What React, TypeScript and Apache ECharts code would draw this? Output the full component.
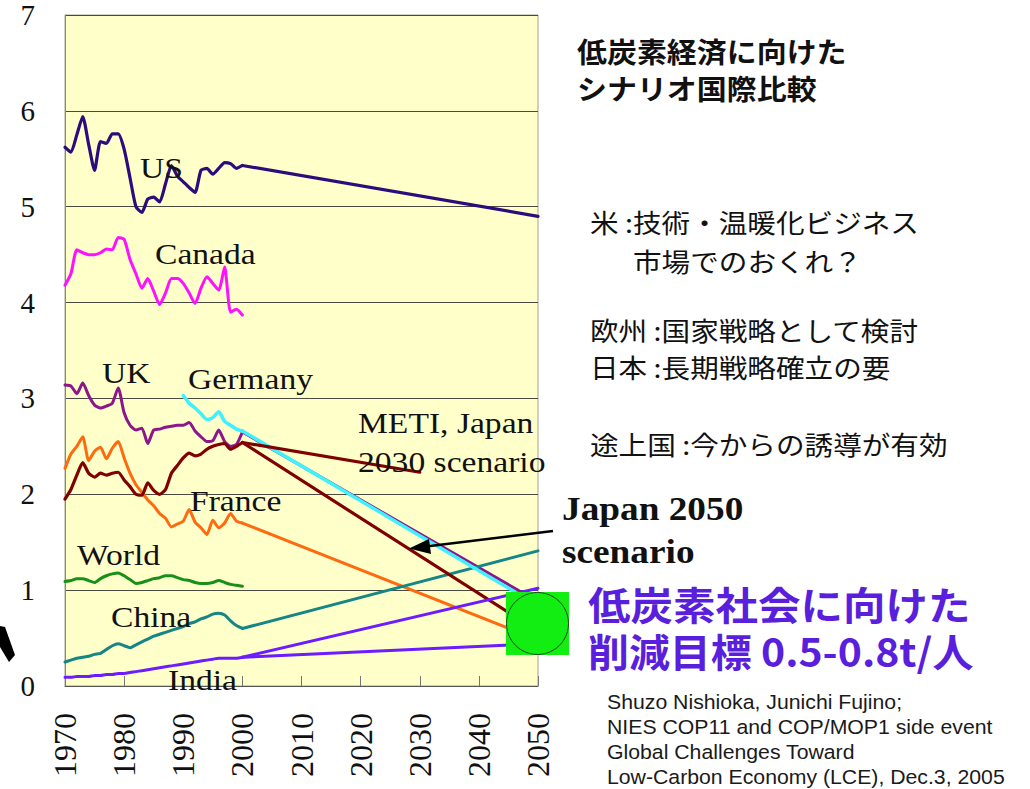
import React, { useEffect, useRef } from "react";
import * as echarts from "echarts";

// ---------- data (t-C per capita) ----------
const HIST_YEARS = [
  1970, 1971, 1972, 1973, 1974, 1975, 1976, 1977, 1978, 1979, 1980, 1981, 1982, 1983, 1984, 1985,
  1986, 1987, 1988, 1989, 1990, 1991, 1992, 1993, 1994, 1995, 1996, 1997, 1998, 1999, 2000,
];
const GERMANY_YEARS = [1990, 1991, 1992, 1993, 1994, 1995, 1996, 1997, 1998, 1999, 2000];

const US = [
  5.62, 5.57, 5.75, 5.94, 5.65, 5.38, 5.68, 5.66, 5.76, 5.76, 5.6, 5.3, 5.0, 4.94, 5.08, 5.1,
  5.05, 5.24, 5.43, 5.32, 5.26, 5.2, 5.15, 5.38, 5.4, 5.34, 5.4, 5.46, 5.45, 5.4, 5.43,
];
const CANADA = [
  4.18, 4.3, 4.55, 4.52, 4.5, 4.5, 4.52, 4.56, 4.55, 4.68, 4.66, 4.45, 4.3, 4.15, 4.25, 4.12,
  3.98, 4.1, 4.25, 4.25, 4.2, 4.1, 3.99, 4.15, 4.27, 4.2, 4.13, 4.37, 3.9, 3.93, 3.87,
];
const UK = [
  3.14, 3.13, 3.05, 3.16, 3.03, 2.93, 2.9, 2.92, 2.95, 3.11, 2.85, 2.72, 2.67, 2.69, 2.53, 2.67,
  2.68, 2.7, 2.71, 2.72, 2.72, 2.75, 2.66, 2.6, 2.55, 2.56, 2.67, 2.55, 2.5, 2.52, 2.65,
];
const GERMANY = [3.03, 2.95, 2.9, 2.84, 2.78, 2.8, 2.86, 2.76, 2.72, 2.68, 2.66];
const JAPAN = [
  1.95, 2.05, 2.2, 2.33, 2.22, 2.18, 2.22, 2.2, 2.22, 2.23, 2.15, 2.08, 2.0, 1.99, 2.12, 2.04,
  2.0, 2.05, 2.22, 2.3, 2.38, 2.43, 2.4, 2.42, 2.47, 2.5, 2.52, 2.53, 2.47, 2.5, 2.54,
];
const FRANCE = [
  2.27, 2.42, 2.5, 2.6, 2.35, 2.45, 2.49, 2.37, 2.48, 2.55, 2.38, 2.22, 2.1, 2.02, 1.94, 1.88,
  1.8, 1.75, 1.66, 1.69, 1.72, 1.84, 1.71, 1.65, 1.58, 1.73, 1.65, 1.7, 1.8, 1.72, 1.7,
];
const WORLD = [
  1.09, 1.1, 1.12, 1.12, 1.1, 1.08, 1.12, 1.15, 1.17, 1.18, 1.15, 1.11, 1.07, 1.08, 1.1, 1.12,
  1.13, 1.15, 1.15, 1.13, 1.11, 1.1, 1.08, 1.07, 1.07, 1.08, 1.1, 1.08, 1.06, 1.05, 1.04,
];
const CHINA = [
  0.25, 0.27, 0.29, 0.3, 0.31, 0.33, 0.34, 0.38, 0.42, 0.44, 0.42, 0.4, 0.43, 0.46, 0.49, 0.52,
  0.54, 0.56, 0.58, 0.6, 0.62, 0.65, 0.67, 0.7, 0.72, 0.75, 0.76, 0.74, 0.68, 0.63, 0.6,
];
const INDIA = [
  0.09, 0.09, 0.1, 0.1, 0.1, 0.11, 0.11, 0.12, 0.12, 0.13, 0.13, 0.14, 0.15, 0.16, 0.17, 0.18,
  0.19, 0.2, 0.21, 0.22, 0.23, 0.24, 0.25, 0.26, 0.27, 0.28, 0.29, 0.29, 0.29, 0.29, 0.3,
];

// scenario end points
const TARGET_YEAR = 2050;
const METI_YEAR = 2030;
const US_2050 = 4.9;
const UK_2050 = 0.88;
const GERMANY_2050 = 0.84;
const JAPAN_2050 = 0.57;
const JAPAN_METI_2030 = 2.23;
const FRANCE_2050 = 0.48;
const CHINA_2050 = 1.41;
const INDIA_2050_LOW = 0.44;
const INDIA_2050_HIGH = 1.02;

// axis
const X_MIN = 1970;
const X_MAX = 2050;
const X_STEP = 10;
const Y_MIN = 0;
const Y_MAX = 7;
const Y_STEP = 1;

// labels
const SERIES_LABELS = ["US", "Canada", "UK", "Germany", "METI, Japan", "2030 scenario", "France", "World", "China", "India"];
const TITLE_LINES = ["低炭素経済に向けた", "シナリオ国際比較"];
const NOTE_LINES = ["米 :技術・温暖化ビジネス", "市場でのおくれ？", "欧州 :国家戦略として検討", "日本 :長期戦略確立の要", "途上国 :今からの誘導が有効"];
const TARGET_LINES = ["低炭素社会に向けた", "削減目標 0.5-0.8t/人"];
const JAPAN_SCEN_LINES = ["Japan 2050", "scenario"];
const SOURCE_LINES = [
  "Shuzo Nishioka, Junichi Fujino;",
  "NIES COP11 and COP/MOP1 side event",
  "Global Challenges Toward",
  "Low-Carbon Economy (LCE), Dec.3, 2005",
];

const pairs = (years: number[], vals: number[]) => years.map((y, i) => [y, vals[i]]);
const last = (a: number[]) => a[a.length - 1];

const SERIF = "'Liberation Serif', 'Times New Roman', serif";
const SANS = "'Liberation Sans', Arial, sans-serif";
const JP = "'Noto Sans CJK JP', 'Noto Sans', sans-serif";

function txt(text: string, x: number, y: number, font: string, fill: string, scaleX = 1) {
  return {
    type: "text",
    x,
    y,
    scaleX,
    z: 100,
    silent: true,
    style: { text, x: 0, y: 0, font, fill, textAlign: "left", textVerticalAlign: "middle" },
  };
}

export default function App() {
  const ref = useRef<HTMLDivElement>(null);

  useEffect(() => {
    if (!ref.current) return;
    const chart = echarts.init(ref.current, null, { renderer: "svg" });

    const line = (name: string, data: any[], color: string, width = 3, smooth: any = 0.2) => ({
      name,
      type: "line",
      data,
      showSymbol: false,
      symbol: "none",
      smooth,
      lineStyle: { color, width, cap: "round", join: "round" },
      itemStyle: { color },
    });
    // straight scenario segment from the last historical point to a target point
    const proj = (name: string, years: number[], vals: number[], endYear: number, endVal: number, color: string, width = 3) =>
      line(name, [[last(years), last(vals)], [endYear, endVal]], color, width, false);

    const C = {
      us: "#2c0c7c",
      canada: "#ff10ff",
      uk: "#8c168c",
      germany: "#3ff0ff",
      japan: "#800000",
      france: "#ff6a10",
      world: "#17901a",
      china: "#158585",
      india: "#6c1cff",
    };

    const labelFont = `30px ${SERIF}`;
    const lblX = 1.12;
    const labelPos: [number, number][] = [
      [140, 168],
      [155, 254],
      [102, 373],
      [188, 379],
      [358, 423],
      [358, 462],
      [190, 501],
      [77, 555],
      [111, 617],
      [168, 680],
    ];

    const graphics: any[] = [];
    SERIES_LABELS.forEach((t, i) => graphics.push(txt(t, labelPos[i][0], labelPos[i][1], labelFont, "#111", lblX)));

    // title
    graphics.push(txt(TITLE_LINES[0], 577, 50, `bold 28px ${JP}`, "#111", 1.07));
    graphics.push(txt(TITLE_LINES[1], 577, 87, `bold 28px ${JP}`, "#111", 1.07));

    // notes
    const noteFont = `26px ${JP}`;
    graphics.push(txt(NOTE_LINES[0], 590, 222, noteFont, "#111", 1.1));
    graphics.push(txt(NOTE_LINES[1], 633, 261, noteFont, "#111", 1.1));
    graphics.push(txt(NOTE_LINES[2], 590, 330, noteFont, "#111", 1.1));
    graphics.push(txt(NOTE_LINES[3], 590, 367, noteFont, "#111", 1.1));
    graphics.push(txt(NOTE_LINES[4], 590, 444, noteFont, "#111", 1.1));

    // Japan 2050 scenario label
    graphics.push(txt(JAPAN_SCEN_LINES[0], 562, 509, `bold 33px ${SERIF}`, "#111", 1.13));
    graphics.push(txt(JAPAN_SCEN_LINES[1], 562, 552, `bold 33px ${SERIF}`, "#111", 1.13));

    // target text
    graphics.push(txt(TARGET_LINES[0], 588, 603, `bold 39px ${JP}`, "#5a1fdc", 1.09));
    graphics.push(txt(TARGET_LINES[1], 588, 650, `bold 39px ${JP}`, "#5a1fdc", 1.05));

    // source
    SOURCE_LINES.forEach((t, i) => graphics.push(txt(t, 607, 702 + i * 25, `19.5px ${SANS}`, "#1a1a1a", 1.09)));

    // green target box
    graphics.push({
      type: "rect",
      z: 100,
      silent: true,
      shape: { x: 506, y: 592, width: 63, height: 63 },
      style: { fill: "#12ee12" },
    });
    graphics.push({
      type: "circle",
      z: 101,
      silent: true,
      shape: { cx: 537.5, cy: 623.5, r: 31 },
      style: { fill: "#12ee12", stroke: "#1a4a1a", lineWidth: 1 },
    });

    // arrow pointing to Japan 2050 line
    graphics.push({
      type: "line",
      z: 100,
      silent: true,
      shape: { x1: 553, y1: 531, x2: 422, y2: 547 },
      style: { stroke: "#000", lineWidth: 2.5 },
    });
    graphics.push({
      type: "polygon",
      z: 100,
      silent: true,
      shape: { points: [[409, 548.5], [429, 539], [431, 554]] },
      style: { fill: "#000" },
    });

    // partial black arrow at the bottom-left edge
    graphics.push({
      type: "polygon",
      z: 100,
      silent: true,
      shape: { points: [[0, 626], [5, 627], [15, 655], [9, 662], [0, 647]] },
      style: { fill: "#000" },
    });

    const option: any = {
      animation: false,
      backgroundColor: "#ffffff",
      grid: {
        left: 65,
        top: 15,
        width: 473,
        height: 671,
        show: true,
        backgroundColor: "#ffffc9",
        borderColor: "#a3a38c",
        borderWidth: 1,
      },
      xAxis: {
        type: "value",
        min: X_MIN,
        max: X_MAX,
        interval: X_STEP,
        axisLine: { show: true, lineStyle: { color: "#555", width: 1 } },
        axisTick: { show: true, inside: true, length: 10, lineStyle: { color: "#777" } },
        splitLine: { show: false },
        axisLabel: {
          rotate: 90,
          margin: 27,
          color: "#111",
          fontSize: 32,
          fontFamily: SERIF,
          formatter: (v: number) => String(v),
        },
      },
      yAxis: {
        type: "value",
        min: Y_MIN,
        max: Y_MAX,
        interval: Y_STEP,
        axisLine: { show: true, lineStyle: { color: "#8a8a70", width: 1 } },
        axisTick: { show: false },
        splitLine: { show: true, lineStyle: { color: "#4a4a40", width: 1 } },
        axisLabel: { margin: 30, color: "#111", fontSize: 29, fontFamily: SERIF },
      },
      series: [
        line("Canada", pairs(HIST_YEARS, CANADA), C.canada),
        line("US", pairs(HIST_YEARS, US), C.us, 3.2),
        proj("US 2050", HIST_YEARS, US, TARGET_YEAR, US_2050, C.us, 3.2),
        line("UK", pairs(HIST_YEARS, UK), C.uk),
        proj("UK 2050", HIST_YEARS, UK, TARGET_YEAR, UK_2050, C.uk),
        line("France", pairs(HIST_YEARS, FRANCE), C.france),
        proj("France 2050", HIST_YEARS, FRANCE, TARGET_YEAR, FRANCE_2050, C.france),
        line("China", pairs(HIST_YEARS, CHINA), C.china),
        proj("China 2050", HIST_YEARS, CHINA, TARGET_YEAR, CHINA_2050, C.china),
        line("Germany", pairs(GERMANY_YEARS, GERMANY), C.germany, 3.5),
        proj("Germany 2050", GERMANY_YEARS, GERMANY, TARGET_YEAR, GERMANY_2050, C.germany, 3.5),
        line("Japan", pairs(HIST_YEARS, JAPAN), C.japan, 3.2),
        proj("Japan 2050 scenario", HIST_YEARS, JAPAN, TARGET_YEAR, JAPAN_2050, C.japan, 3.2),
        proj("METI Japan 2030", HIST_YEARS, JAPAN, METI_YEAR, JAPAN_METI_2030, C.japan, 3.2),
        line("World", pairs(HIST_YEARS, WORLD), C.world),
        line("India", pairs(HIST_YEARS, INDIA), C.india),
        proj("India 2050 low", HIST_YEARS, INDIA, TARGET_YEAR, INDIA_2050_LOW, C.india),
        proj("India 2050 high", HIST_YEARS, INDIA, TARGET_YEAR, INDIA_2050_HIGH, C.india),
      ],
      graphic: graphics,
    };

    chart.setOption(option);
    return () => chart.dispose();
  }, []);

  return (
    <div
      ref={ref}
      style={{ position: "fixed", left: 0, top: 0, width: 1030, height: 789, background: "#fff" }}
    />
  );
}
